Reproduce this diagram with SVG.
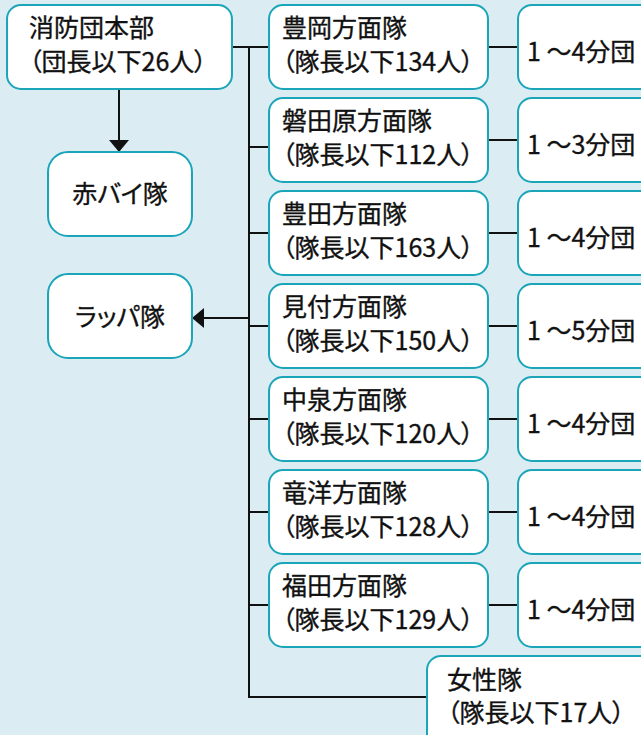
<svg xmlns="http://www.w3.org/2000/svg" width="641" height="735" viewBox="0 0 641 735">
<defs>
<style>
.bx{fill:#fff;stroke:#1aa5b9;stroke-width:2}
.t{font-family:"Noto Sans CJK JP","Noto Sans",sans-serif;font-size:25px;fill:#111;stroke:#111;stroke-width:0.35;font-feature-settings:"palt"}
.c{text-anchor:middle}
.ln{stroke:#111;stroke-width:2;fill:none}
</style>
<marker id="ah" viewBox="0 0 12 20" refX="12" refY="10" markerWidth="12" markerHeight="20" markerUnits="userSpaceOnUse" orient="auto">
<path d="M0,0L12,10L0,20Z" fill="#111"/>
</marker>
</defs>
<rect width="641" height="735" fill="#dcecf3"/>
<g id="connectors">
<path class="ln" d="M232,47H269"/>
<path class="ln" d="M249,47V697H427"/>
<path class="ln" d="M249,147H269"/>
<path class="ln" d="M249,233H269"/>
<path class="ln" d="M249,326H269"/>
<path class="ln" d="M249,419H269"/>
<path class="ln" d="M249,512H269"/>
<path class="ln" d="M249,605H269"/>
<path class="ln" d="M488,47H518M488,140H518M488,233H518M488,326H518M488,419H518M488,512H518M488,605H518"/>
<path class="ln" d="M119,89V152" marker-end="url(#ah)"/>
<path class="ln" d="M249,318H192" marker-end="url(#ah)"/>
</g>
<g id="honbu"><rect class="bx" x="7" y="5" width="225" height="84" rx="14"/>
<text class="t" x="29" y="37">消防団本部</text><text class="t" x="29" y="71">（団長以下26人）</text></g>
<g id="akabai"><rect class="bx" x="48" y="152" width="144" height="84" rx="20"/>
<text class="t c" x="120" y="203">赤バイ隊</text></g>
<g id="rappa"><rect class="bx" x="48" y="274" width="144" height="84" rx="20"/>
<text class="t c" x="120" y="326">ラッパ隊</text></g>
<g id="toyooka"><rect class="bx" x="269" y="5" width="219" height="84" rx="14"/>
<text class="t" x="282" y="37">豊岡方面隊</text><text class="t" x="282" y="71">（隊長以下134人）</text></g>
<g id="iwatahara"><rect class="bx" x="269" y="98" width="219" height="84" rx="14"/>
<text class="t" x="282" y="130">磐田原方面隊</text><text class="t" x="282" y="164">（隊長以下112人）</text></g>
<g id="toyoda"><rect class="bx" x="269" y="191" width="219" height="84" rx="14"/>
<text class="t" x="282" y="223">豊田方面隊</text><text class="t" x="282" y="257">（隊長以下163人）</text></g>
<g id="mitsuke"><rect class="bx" x="269" y="284" width="219" height="84" rx="14"/>
<text class="t" x="282" y="316">見付方面隊</text><text class="t" x="282" y="350">（隊長以下150人）</text></g>
<g id="nakaizumi"><rect class="bx" x="269" y="377" width="219" height="84" rx="14"/>
<text class="t" x="282" y="409">中泉方面隊</text><text class="t" x="282" y="443">（隊長以下120人）</text></g>
<g id="ryuyo"><rect class="bx" x="269" y="470" width="219" height="84" rx="14"/>
<text class="t" x="282" y="502">竜洋方面隊</text><text class="t" x="282" y="536">（隊長以下128人）</text></g>
<g id="fukude"><rect class="bx" x="269" y="563" width="219" height="84" rx="14"/>
<text class="t" x="282" y="595">福田方面隊</text><text class="t" x="282" y="629">（隊長以下129人）</text></g>
<g id="b1"><rect class="bx" x="518" y="5" width="140" height="84" rx="14"/><text class="t" x="527" y="61">1 ～4分団</text></g>
<g id="b2"><rect class="bx" x="518" y="98" width="140" height="84" rx="14"/><text class="t" x="527" y="154">1 ～3分団</text></g>
<g id="b3"><rect class="bx" x="518" y="191" width="140" height="84" rx="14"/><text class="t" x="527" y="247">1 ～4分団</text></g>
<g id="b4"><rect class="bx" x="518" y="284" width="140" height="84" rx="14"/><text class="t" x="527" y="340">1 ～5分団</text></g>
<g id="b5"><rect class="bx" x="518" y="377" width="140" height="84" rx="14"/><text class="t" x="527" y="433">1 ～4分団</text></g>
<g id="b6"><rect class="bx" x="518" y="470" width="140" height="84" rx="14"/><text class="t" x="527" y="526">1 ～4分団</text></g>
<g id="b7"><rect class="bx" x="518" y="563" width="140" height="84" rx="14"/><text class="t" x="527" y="619">1 ～4分団</text></g>
<g id="josei"><rect class="bx" x="427" y="656" width="230" height="100" rx="14"/>
<text class="t" x="447" y="689">女性隊</text><text class="t" x="447" y="722">（隊長以下17人）</text></g>
</svg>
